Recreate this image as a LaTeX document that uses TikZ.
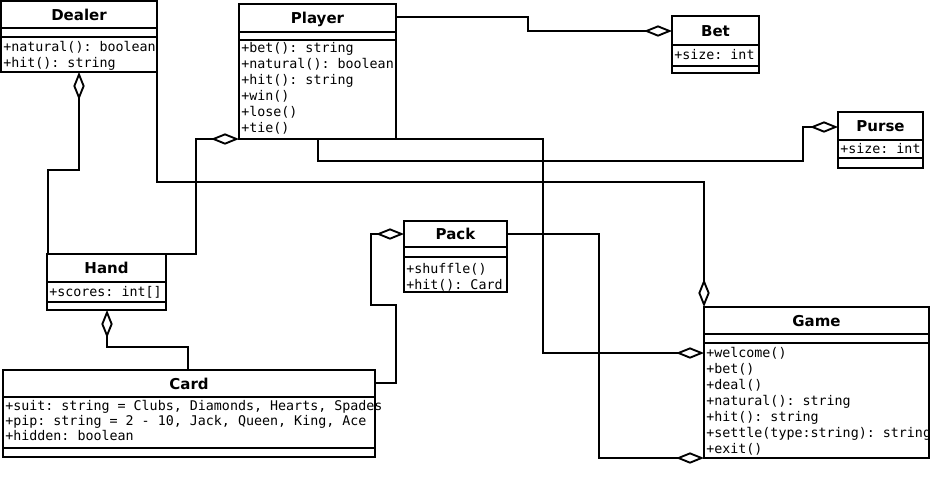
\documentclass[tikz,border=0pt]{standalone}
\usepackage{fontspec}
\setmainfont{DejaVu Sans}
\newfontfamily\umlmono{DejaVu Sans Mono}
\usetikzlibrary{arrows.meta,calc}
\tikzset{
  classbox/.style={draw, line width=1.4pt, rectangle, inner sep=0pt, outer sep=0pt},
  sepline/.style={line width=1.4pt},
  ctitle/.style={font=\fontsize{11.25pt}{13pt}\selectfont\bfseries, inner sep=0pt, anchor=base},
  mem/.style={font=\umlmono\fontsize{10pt}{12pt}\selectfont\frenchspacing, inner sep=0pt, anchor=base west},
  agg/.style={line width=1.4pt, -{Diamond[open, length=21pt, width=8.5pt, line width=1.4pt]}},
}
\newcommand{\umlclass}[7]{%
  \node[classbox, minimum width={0.75pt*(#4-#2)}, minimum height={0.75pt*(#5-#3)}, anchor=north west] (#1) at (#2,#3) {};
  \draw[sepline] (#2,#6) -- (#4,#6);
  \draw[sepline] (#2,#7) -- (#4,#7);
}
\newcommand{\mlines}[1]{\begin{tabular}[t]{@{}l@{}}#1\end{tabular}}
\begin{document}
\begin{tikzpicture}[x=0.75pt,y=-0.75pt]
\useasboundingbox (0,0) rectangle (930,476);
% classes
\umlclass{dealer}{1}{1}{157}{72}{28}{37}
\umlclass{player}{239}{4}{396}{139}{32}{40}
\umlclass{bet}{672}{16}{759}{73}{45}{66}
\umlclass{purse}{838}{112}{923}{168}{140}{158}
\umlclass{hand}{47}{254}{166}{310}{282}{302}
\umlclass{pack}{404}{221}{507}{292}{247}{257}
\umlclass{card}{3}{370}{375}{457}{397}{448}
\umlclass{game}{704}{307}{929}{458}{334}{343}
% titles
\node[ctitle] (dealer-t) at (79,20) {Dealer};
\node[ctitle] (player-t) at (317.5,23.5) {Player};
\node[ctitle] (bet-t) at (715.5,36) {Bet};
\node[ctitle] (purse-t) at (880.5,131.5) {Purse};
\node[ctitle] (hand-t) at (106.5,273.5) {Hand};
\node[ctitle] (pack-t) at (455.5,239.5) {Pack};
\node[ctitle] (card-t) at (189,389) {Card};
\node[ctitle] (game-t) at (816.5,326) {Game};
% members
\node[mem] (dealer-m) at (3,51) {\mlines{+natural(): boolean\\+hit(): string}};
\node[mem] (player-m) at (241,52) {\mlines{+bet(): string\\+natural(): boolean\\+hit(): string\\+win()\\+lose()\\+tie()}};
\node[mem] (bet-m) at (674,59) {+size: int};
\node[mem] (purse-m) at (840,153) {+size: int};
\node[mem] (hand-m) at (49,296) {+scores: int[]};
\node[mem] (pack-m) at (406,273) {\mlines{+shuffle()\\+hit(): Card}};
\node[mem, font=\umlmono\fontsize{10pt}{11.25pt}\selectfont\frenchspacing] (card-m) at (5,410) {\mlines{+suit: string = Clubs, Diamonds, Hearts, Spades\\+pip: string = 2 - 10, Jack, Queen, King, Ace\\+hidden: boolean}};
\node[mem] (game-m) at (706,357) {\mlines{+welcome()\\+bet()\\+deal()\\+natural(): string\\+hit(): string\\+settle(type:string): string\\+exit()}};
% connectors
\draw[agg] ($(hand.north west)+(1,0)$) |- (79,170) -- ($(dealer.south west)+(78,0)$);
\draw[agg] (hand.north east) -| (196,139) -- (player.south west);
\draw[agg] ($(player.north east)+(0,13)$) -| (528,31) -- ($(bet.north west)+(0,15)$);
\draw[agg] ($(player.south west)+(79,0)$) |- (803,161) |- ($(purse.north west)+(0,15)$);
\draw[agg] (player.south east) -| (543,353) -- ($(game.north west)+(0,46)$);
\draw[agg] (dealer.south east) |- (704,182) -- (game.north west);
\draw[agg] ($(card.north west)+(185,0)$) |- (107,347) -- ($(hand.south west)+(60,0)$);
\draw[agg] ($(card.north east)+(0,13)$) -| (396,305) -| (371,234) -- ($(pack.north west)+(0,13)$);
\draw[agg] ($(pack.north east)+(0,13)$) -| (599,458) -- (game.south west);
\end{tikzpicture}
\end{document}
